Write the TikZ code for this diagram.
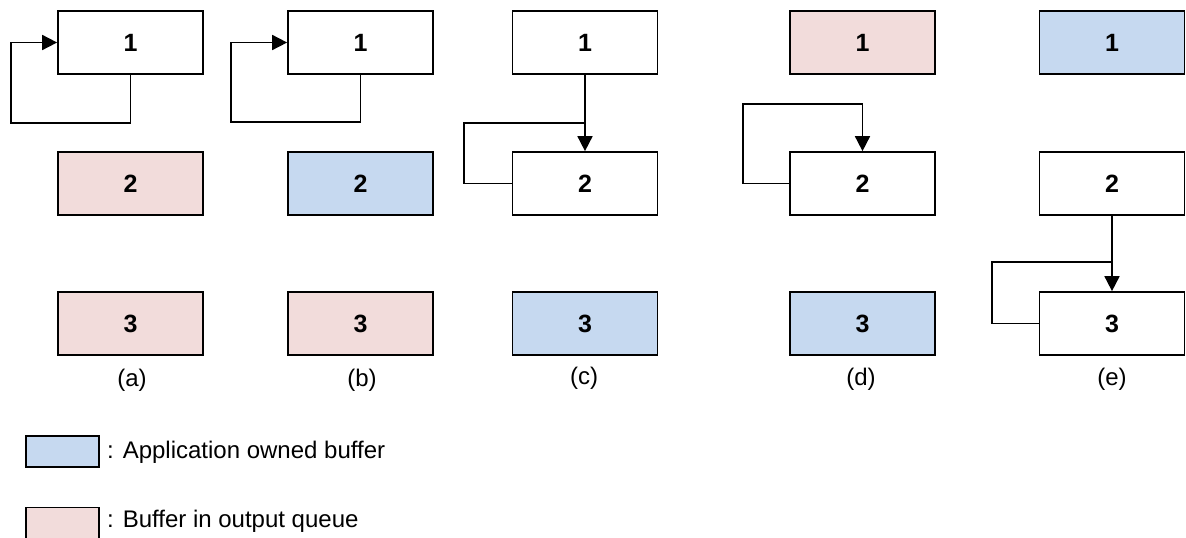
\documentclass[tikz,border=0pt]{standalone}
\usepackage{fontspec}
\setmainfont{Liberation Sans}
\usetikzlibrary{arrows.meta}
\definecolor{appblue}{HTML}{C6D9F0}
\definecolor{qpink}{HTML}{F2DCDB}
\tikzset{
  buf/.style={draw=black, line width=1.7pt, minimum width=145pt, minimum height=63pt, inner sep=0pt,
    font=\fontsize{25}{29}\selectfont\bfseries},
  app/.style={buf, fill=appblue},
  que/.style={buf, fill=qpink},
  plain/.style={buf, fill=white},
  conn/.style={line width=1.7pt, line join=miter},
  arr/.style={conn, -{Triangle[length=15pt,width=15pt]}},
  sublabel/.style={font=\fontsize{24}{28}\selectfont, inner sep=0pt},
  legbox/.style={draw=black, line width=1.7pt, minimum width=73pt, minimum height=31pt, inner sep=0pt},
  legtext/.style={font=\fontsize{24}{28}\selectfont, inner sep=0pt, anchor=west}
}
\begin{document}
\begin{tikzpicture}[x=1pt,y=-1pt]
\useasboundingbox (0,0) rectangle (1186,538);
% column a
\node[plain] (a1) at (130.5,42.5) {1};
\node[que] (a2) at (130.5,183.5) {2};
\node[que] (a3) at (130.5,323.5) {3};
\node[sublabel] (la) at (132,380) {(a)};
\coordinate (a1d) at (130.5,123);
\coordinate (a1l) at (11,123);
\draw[arr] (a1.south) -- (a1d) -- (a1l) |- (a1.west);
% column b
\node[plain] (b1) at (360.5,42.5) {1};
\node[app] (b2) at (360.5,183.5) {2};
\node[que] (b3) at (360.5,323.5) {3};
\node[sublabel] (lb) at (362,380) {(b)};
\coordinate (b1d) at (360.5,122);
\coordinate (b1l) at (231,122);
\draw[arr] (b1.south) -- (b1d) -- (b1l) |- (b1.west);
% column c
\node[plain] (c1) at (585,42.5) {1};
\node[plain] (c2) at (585,183.5) {2};
\node[app] (c3) at (585,323.5) {3};
\node[sublabel] (lc) at (584,378) {(c)};
\draw[arr] (c1.south) -- (c2.north);
\coordinate (cl) at (464,123);
\coordinate (cj) at (585,123);
\draw[conn] (c2.west) -| (cl) -- (cj);
% column d
\node[que] (d1) at (862.5,42.5) {1};
\node[plain] (d2) at (862.5,183.5) {2};
\node[app] (d3) at (862.5,323.5) {3};
\node[sublabel] (ld) at (861,379) {(d)};
\coordinate (dl) at (743,104);
\coordinate (dr) at (862.5,104);
\draw[arr] (d2.west) -| (dl) -- (dr) -- (d2.north);
% column e
\node[app] (e1) at (1112,42.5) {1};
\node[plain] (e2) at (1112,183.5) {2};
\node[plain] (e3) at (1112,323.5) {3};
\node[sublabel] (le) at (1112,379) {(e)};
\draw[arr] (e2.south) -- (e3.north);
\coordinate (el) at (992,262);
\coordinate (ej) at (1112,262);
\draw[conn] (e3.west) -| (el) -- (ej);
% legend
\node[legbox, fill=appblue] (lg1) at (62.5,451.5) {};
\node[legtext] (lt1) at (107,452) {: Application owned buffer};
\node[legbox, fill=qpink] (lg2) at (62.5,523) {};
\node[legtext] (lt2) at (107,521) {: Buffer in output queue};
\end{tikzpicture}
\end{document}
